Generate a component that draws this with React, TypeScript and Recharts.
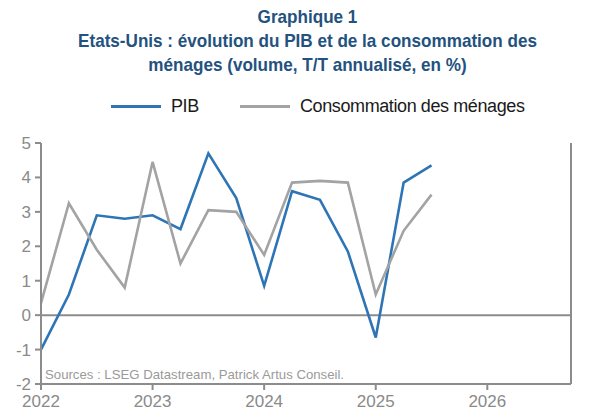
import React from "react";
import { LineChart, Line, XAxis, YAxis, ReferenceLine } from "recharts";

// Quarterly periods, T/T annualised growth in %
const periods = [
  "2022T1", "2022T2", "2022T3", "2022T4",
  "2023T1", "2023T2", "2023T3", "2023T4",
  "2024T1", "2024T2", "2024T3", "2024T4",
  "2025T1", "2025T2", "2025T3",
];
const pib = [-1.0, 0.6, 2.9, 2.8, 2.9, 2.5, 4.7, 3.4, 0.85, 3.6, 3.35, 1.85, -0.65, 3.85, 4.35];
const consommation = [0.35, 3.25, 1.9, 0.8, 4.45, 1.5, 3.05, 3.0, 1.75, 3.85, 3.9, 3.85, 0.6, 2.45, 3.5];
const yearTicks = [2022, 2023, 2024, 2025, 2026];
const valueTicks = [-2, -1, 0, 1, 2, 3, 4, 5];

const FONT = "'Liberation Sans', Arial, sans-serif";
const GREY_TEXT = "#8a8a8a";
const AXIS = "#8c8c8c";
const BLUE = "#2e75b6";
const GREY_LINE = "#a3a3a3";

const data = periods.map((p, i) => ({
  t: Number(p.slice(0, 4)) + (Number(p.slice(5)) - 1) / 4,
  pib: pib[i],
  conso: consommation[i],
}));

const legendItems = [
  { label: "PIB", color: BLUE, left: 111 },
  { label: "Consommation des ménages", color: GREY_LINE, left: 240 },
];

export default function App() {
  return (
    <div style={{ position: "absolute", left: 0, top: 0, width: 595, height: 416, background: "#fff", overflow: "hidden" }}>
      <div
        style={{
          position: "absolute",
          top: 5,
          left: 0,
          width: 615,
          textAlign: "center",
          fontFamily: FONT,
          fontWeight: "bold",
          fontSize: 19,
          lineHeight: "24px",
          color: "#24527f",
          transform: "scaleX(0.9)",
        }}
      >
        Graphique 1
        <br />
        Etats-Unis : évolution du PIB et de la consommation des
        <br />
        ménages (volume, T/T annualisé, en %)
      </div>
      {/* legend */}
      {legendItems.map((it) => (
        <div
          key={it.label}
          style={{
            position: "absolute",
            top: 96,
            left: it.left,
            display: "flex",
            alignItems: "center",
            fontFamily: FONT,
            fontSize: 18,
            letterSpacing: -0.4,
            color: "#1a1a1a",
            whiteSpace: "nowrap",
          }}
        >
          <span style={{ display: "inline-block", width: 50, height: 3, background: it.color, marginRight: 10 }} />
          <span>{it.label}</span>
        </div>
      ))}
      <div style={{ position: "absolute", top: 0, left: 0 }}>
        <LineChart width={595} height={416} data={data} margin={{ top: 143, right: 0, left: 0, bottom: 0 }}>
          <XAxis
            dataKey="t"
            type="number"
            domain={[2022, 2026.75]}
            ticks={yearTicks}
            height={32}
            stroke={AXIS}
            strokeWidth={2}
            tickSize={6}
            tickMargin={5}
            tick={{ fill: GREY_TEXT, fontSize: 17, fontFamily: FONT }}
          />
          <YAxis
            yAxisId="left"
            orientation="left"
            domain={[-2, 5]}
            ticks={valueTicks}
            width={41}
            stroke={AXIS}
            strokeWidth={2}
            tickSize={6}
            tickMargin={4}
            tick={{ fill: GREY_TEXT, fontSize: 17, fontFamily: FONT }}
          />
          <YAxis
            yAxisId="right"
            orientation="right"
            domain={[-2, 5]}
            ticks={valueTicks}
            width={24}
            stroke={AXIS}
            strokeWidth={2}
            tickSize={6}
            tickMargin={2}
            tick={{ fill: GREY_TEXT, fontSize: 17, fontFamily: FONT, textAnchor: "start" }}
          />
          <ReferenceLine yAxisId="left" y={0} stroke={AXIS} strokeWidth={2} />
          <Line
            yAxisId="left"
            dataKey="pib"
            name="PIB"
            stroke={BLUE}
            strokeWidth={2.6}
            dot={false}
            isAnimationActive={false}
          />
          <Line
            yAxisId="left"
            dataKey="conso"
            name="Consommation des ménages"
            stroke={GREY_LINE}
            strokeWidth={2.6}
            dot={false}
            isAnimationActive={false}
          />
        </LineChart>
      </div>
      <div
        style={{
          position: "absolute",
          left: 45,
          top: 367,
          fontFamily: FONT,
          fontSize: 13.2,
          color: "#9a9a9a",
          background: "#fff",
        }}
      >
        Sources : LSEG Datastream, Patrick Artus Conseil.
      </div>
    </div>
  );
}
